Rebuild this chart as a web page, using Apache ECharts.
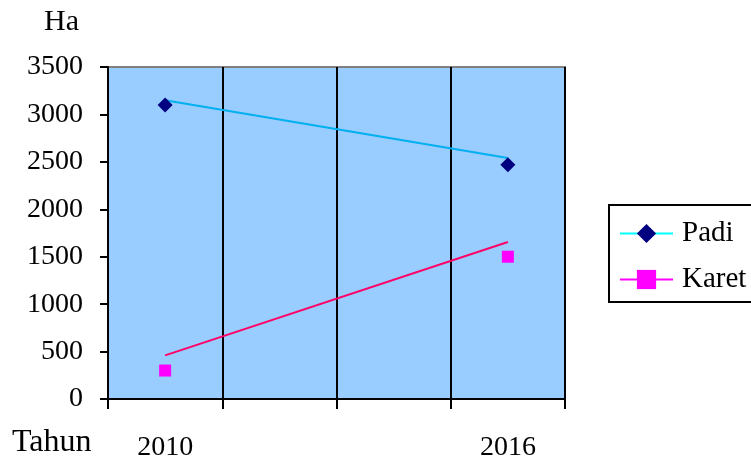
<!DOCTYPE html>
<html lang="en">
<head>
    <meta charset="UTF-8">
    <title>Padi Karet</title>
    <script src="https://cdn.jsdelivr.net/npm/echarts@6/dist/echarts.min.js"></script>
    <style>
        html, body { margin: 0; padding: 0; background: #fff; }
        #chart1 { width: 751px; height: 462px; }
    </style>
</head>
<body>
<div id="chart1"></div>
<script type="text/javascript">

    var years = ['2010', '', '', '2016'];
    var padi = [3100, null, null, 2470];
    var karet = [300, null, null, 1500];
    // trend lines
    var padiTrend = [3150, null, null, 2540];
    var karetTrend = [460, null, null, 1655];

    var font = 'Liberation Serif, Times New Roman, serif';

    var myChart1 = echarts.init(document.getElementById('chart1'));
    myChart1.setOption({
        animation: false,
        grid: {
            left: 108, top: 67, right: 186, bottom: 62,
            show: true,
            backgroundColor: '#99CCFF',
            borderColor: '#808080',
            borderWidth: 2
        },
        graphic: [
            {type: 'text', left: 44, top: 7, style: {text: 'Ha', font: '30px ' + font, fill: '#000'}},
            {type: 'text', left: 12, top: 427, style: {text: 'Tahun', font: '32px ' + font, fill: '#000'}}
        ],
        legend: {
            data: ['Padi', 'Karet'],
            orient: 'vertical',
            left: 609,
            top: 205,
            padding: [14, 10, 8, 10],
            itemGap: 17,
            itemWidth: 53,
            itemHeight: 24,
            borderColor: '#000',
            borderWidth: 2,
            textStyle: {fontFamily: font, fontSize: 29, color: '#000', padding: [0, 0, 0, 4]}
        },
        xAxis: {
            type: 'category',
            data: years,
            boundaryGap: true,
            axisLine: {lineStyle: {color: '#000', width: 2}},
            axisTick: {show: true, length: 10, lineStyle: {color: '#000', width: 2}},
            axisLabel: {fontFamily: font, fontSize: 28, color: '#000', margin: 35, interval: 0},
            splitLine: {
                show: true,
                interval: function (i) { return i > 0; },
                lineStyle: {color: '#000', width: 2}
            }
        },
        yAxis: {
            type: 'value',
            min: 0,
            max: 3500,
            interval: 500,
            axisLine: {show: true, lineStyle: {color: '#000', width: 2}},
            axisTick: {show: true, length: 8, lineStyle: {color: '#000', width: 2}},
            axisLabel: {
                fontFamily: font, fontSize: 28, color: '#000', margin: 25,
                formatter: function (v) { return String(v); }
            },
            splitLine: {show: false}
        },
        series: [
            {
                name: 'Padi trend',
                type: 'line',
                data: padiTrend,
                connectNulls: true,
                showSymbol: false,
                lineStyle: {color: '#00B0F0', width: 2},
                itemStyle: {color: '#00B0F0'}
            },
            {
                name: 'Karet trend',
                type: 'line',
                data: karetTrend,
                connectNulls: true,
                showSymbol: false,
                lineStyle: {color: '#FF0066', width: 2},
                itemStyle: {color: '#FF0066'}
            },
            {
                name: 'Padi',
                type: 'line',
                data: padi,
                connectNulls: false,
                symbol: 'diamond',
                symbolSize: 15,
                lineStyle: {color: '#00FFFF', width: 3},
                itemStyle: {color: '#000080'}
            },
            {
                name: 'Karet',
                type: 'line',
                data: karet,
                connectNulls: false,
                symbol: 'rect',
                symbolSize: 12,
                lineStyle: {color: '#FF00FF', width: 3},
                itemStyle: {color: '#FF00FF'}
            }
        ]
    });

</script>
</body>
</html>
